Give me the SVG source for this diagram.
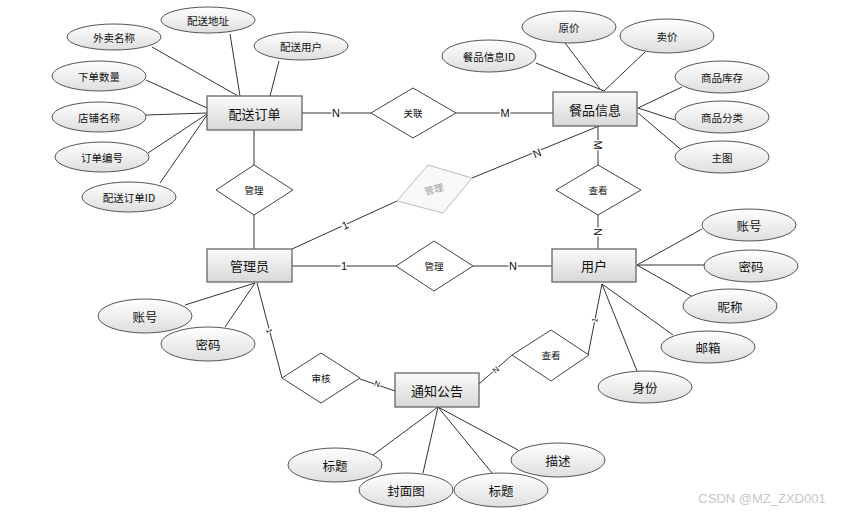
<svg xmlns="http://www.w3.org/2000/svg" width="845" height="514" viewBox="0 0 845 514">
<defs>
<linearGradient id="g" x1="0" y1="0" x2="0" y2="1">
<stop offset="0" stop-color="#ffffff"/>
<stop offset="1" stop-color="#dedede"/>
</linearGradient>
<linearGradient id="gr" x1="0" y1="0" x2="0" y2="1">
<stop offset="0" stop-color="#fafafa"/>
<stop offset="1" stop-color="#d8d8d8"/>
</linearGradient>
</defs>
<style>
text{font-family:"Noto Sans CJK SC","Liberation Sans",sans-serif;fill:#111;text-anchor:middle;dominant-baseline:central}
.e ellipse{fill:url(#g);stroke:#555;stroke-width:1}
.r rect{fill:url(#gr);stroke:#666;stroke-width:1.3}
.d polygon{fill:#fff;stroke:#444;stroke-width:1}
.s{font-size:10.5px}
.m{font-size:12.5px}
.t{font-size:13px}
.dt{font-size:9.5px}
.c line,.c polyline{stroke:#333;stroke-width:1;fill:none}
.lb{font-family:"Liberation Sans",sans-serif;font-size:11px;paint-order:stroke;stroke:#fff;stroke-width:3px}
.sm{font-family:"Liberation Sans",sans-serif;font-size:8px;paint-order:stroke;stroke:#fff;stroke-width:2px}
</style>
<rect width="845" height="514" fill="#fff"/>
<g id="connectors" class="c">
<line x1="152" y1="47" x2="238" y2="96"/>
<line x1="230" y1="34" x2="240" y2="96"/>
<line x1="279" y1="61" x2="270" y2="96"/>
<line x1="146" y1="80" x2="207" y2="108"/>
<line x1="146" y1="115" x2="207" y2="113"/>
<line x1="148" y1="153" x2="207" y2="114"/>
<line x1="160" y1="183" x2="207" y2="115"/>
<line x1="302" y1="113" x2="371" y2="113"/>
<line x1="456" y1="113" x2="553" y2="113"/>
<line x1="536" y1="63" x2="604" y2="91"/>
<line x1="565" y1="43" x2="600" y2="89"/>
<line x1="645" y1="52" x2="604" y2="91"/>
<line x1="638" y1="108" x2="682" y2="87"/>
<line x1="638" y1="108" x2="675" y2="120"/>
<line x1="638" y1="113" x2="685" y2="153"/>
<line x1="254" y1="130" x2="254" y2="165"/>
<line x1="254" y1="215" x2="254" y2="249"/>
<line x1="292" y1="249" x2="397" y2="201"/>
<line x1="472" y1="178" x2="599" y2="126"/>
<line x1="598" y1="126" x2="598" y2="165"/>
<line x1="598" y1="215" x2="598" y2="249"/>
<line x1="292" y1="266" x2="396" y2="266"/>
<line x1="473" y1="266" x2="552" y2="266"/>
<line x1="637" y1="265" x2="702" y2="229"/>
<line x1="637" y1="265" x2="704" y2="265"/>
<line x1="637" y1="265" x2="693" y2="297"/>
<line x1="602" y1="284" x2="673" y2="335"/>
<line x1="602" y1="284" x2="637" y2="371"/>
<line x1="602" y1="284" x2="588" y2="355"/>
<line x1="479" y1="384" x2="512" y2="355"/>
<line x1="255" y1="283" x2="185" y2="305"/>
<line x1="255" y1="283" x2="225" y2="327"/>
<line x1="257" y1="283" x2="282" y2="378"/>
<line x1="360" y1="379" x2="395" y2="391"/>
<line x1="438" y1="407" x2="373" y2="455"/>
<line x1="438" y1="407" x2="423" y2="473"/>
<line x1="438" y1="407" x2="492" y2="473"/>
<line x1="438" y1="407" x2="518" y2="450"/>
<text class="lb" x="336" y="113">N</text>
<text class="lb" x="505" y="113">M</text>
<text class="lb" x="344" y="266">1</text>
<text class="lb" x="513" y="266">N</text>
<text class="lb" transform="translate(345,225) rotate(-25)">1</text>
<text class="lb" transform="translate(537,153) rotate(-22)">N</text>
<text class="lb" transform="translate(598,145) rotate(90)">M</text>
<text class="lb" transform="translate(598,232) rotate(90)">N</text>
<text class="sm" transform="translate(269,331) rotate(75)">1</text>
<text class="sm" transform="translate(377,384) rotate(19)">N</text>
<text class="sm" transform="translate(496,370) rotate(-41)">N</text>
<text class="sm" transform="translate(595,320) rotate(-79)">1</text>
</g>
<g id="配送订单" class="r"><rect x="207" y="96" width="95" height="34"/><text class="t" x="254.5" y="113">配送订单</text></g>
<g id="餐品信息" class="r"><rect x="553" y="92" width="84" height="34"/><text class="t" x="595" y="109">餐品信息</text></g>
<g id="管理员" class="r"><rect x="207" y="249" width="85" height="33"/><text class="t" x="249.5" y="265.5">管理员</text></g>
<g id="用户" class="r"><rect x="552" y="249" width="84" height="33"/><text class="t" x="594" y="265.5">用户</text></g>
<g id="通知公告" class="r"><rect x="395" y="373" width="84" height="34"/><text class="t" x="437" y="390">通知公告</text></g>
<g id="外卖名称" class="e"><ellipse cx="114" cy="37" rx="47" ry="13"/><text class="s" x="114" y="37">外卖名称</text></g>
<g id="配送地址" class="e"><ellipse cx="208" cy="20" rx="47" ry="13"/><text class="s" x="208" y="20">配送地址</text></g>
<g id="配送用户" class="e"><ellipse cx="301" cy="46" rx="47" ry="14"/><text class="s" x="301" y="46">配送用户</text></g>
<g id="下单数量" class="e"><ellipse cx="99" cy="76" rx="47" ry="15"/><text class="s" x="99" y="76">下单数量</text></g>
<g id="店铺名称" class="e"><ellipse cx="99" cy="117" rx="47" ry="15"/><text class="s" x="99" y="117">店铺名称</text></g>
<g id="订单编号" class="e"><ellipse cx="102" cy="157" rx="47" ry="15"/><text class="s" x="102" y="157">订单编号</text></g>
<g id="配送订单ID" class="e"><ellipse cx="129" cy="197" rx="47" ry="15"/><text class="s" x="129" y="197">配送订单ID</text></g>
<g id="餐品信息ID" class="e"><ellipse cx="489" cy="56" rx="47" ry="16"/><text class="s" x="489" y="56">餐品信息ID</text></g>
<g id="原价" class="e"><ellipse cx="569" cy="27" rx="47" ry="16"/><text class="s" x="569" y="27">原价</text></g>
<g id="卖价" class="e"><ellipse cx="667" cy="36" rx="47" ry="17"/><text class="s" x="667" y="36">卖价</text></g>
<g id="商品库存" class="e"><ellipse cx="722" cy="77" rx="47" ry="16"/><text class="s" x="722" y="77">商品库存</text></g>
<g id="商品分类" class="e"><ellipse cx="722" cy="117" rx="47" ry="16"/><text class="s" x="722" y="117">商品分类</text></g>
<g id="主图" class="e"><ellipse cx="722" cy="157" rx="47" ry="16"/><text class="s" x="722" y="157">主图</text></g>
<g id="用户账号" class="e"><ellipse cx="749" cy="225" rx="47" ry="16"/><text class="m" x="749" y="225">账号</text></g>
<g id="用户密码" class="e"><ellipse cx="751" cy="266" rx="47" ry="16"/><text class="m" x="751" y="266">密码</text></g>
<g id="昵称" class="e"><ellipse cx="730" cy="306" rx="47" ry="17"/><text class="m" x="730" y="306">昵称</text></g>
<g id="邮箱" class="e"><ellipse cx="708" cy="347" rx="47" ry="16"/><text class="m" x="708" y="347">邮箱</text></g>
<g id="身份" class="e"><ellipse cx="645" cy="387" rx="47" ry="16"/><text class="m" x="645" y="387">身份</text></g>
<g id="管理员账号" class="e"><ellipse cx="145" cy="316" rx="47" ry="17"/><text class="m" x="145" y="316">账号</text></g>
<g id="管理员密码" class="e"><ellipse cx="208" cy="344" rx="47" ry="17"/><text class="m" x="208" y="344">密码</text></g>
<g id="标题1" class="e"><ellipse cx="335" cy="465" rx="47" ry="17"/><text class="m" x="335" y="465">标题</text></g>
<g id="封面图" class="e"><ellipse cx="406" cy="490" rx="47" ry="17"/><text class="m" x="406" y="490">封面图</text></g>
<g id="标题2" class="e"><ellipse cx="501" cy="490" rx="47" ry="17"/><text class="m" x="501" y="490">标题</text></g>
<g id="描述" class="e"><ellipse cx="558" cy="460" rx="47" ry="17"/><text class="m" x="558" y="460">描述</text></g>
<g id="关联" class="d"><polygon points="413,88 456,113 413,138 371,113"/><text class="dt" x="413" y="113">关联</text></g>
<g id="管理1" class="d"><polygon points="254,165 293,190 254,215 216,190"/><text class="dt" x="254" y="190">管理</text></g>
<g id="管理2"><polygon points="428,165 472,178 443,213 397,201" fill="#f8f8f8" stroke="#bbb" stroke-width="1"/><text class="dt" fill="#999" style="fill:#999" transform="translate(434,189) rotate(-15)">管理</text></g>
<g id="查看1" class="d"><polygon points="598,165 641,190 598,215 556,190"/><text class="dt" x="598" y="190">查看</text></g>
<g id="管理3" class="d"><polygon points="434,241 473,266 434,291 396,266"/><text class="dt" x="434" y="266">管理</text></g>
<g id="查看2" class="d"><polygon points="551,330 589,355 551,381 512,355"/><text class="dt" x="551" y="355">查看</text></g>
<g id="审核" class="d"><polygon points="321,353 360,378 321,403 282,378"/><text class="dt" x="321" y="378">审核</text></g>
<text x="762" y="498" style="font-family:'Liberation Sans',sans-serif;font-size:13px;fill:#c8c8c8">CSDN @MZ_ZXD001</text>
</svg>
